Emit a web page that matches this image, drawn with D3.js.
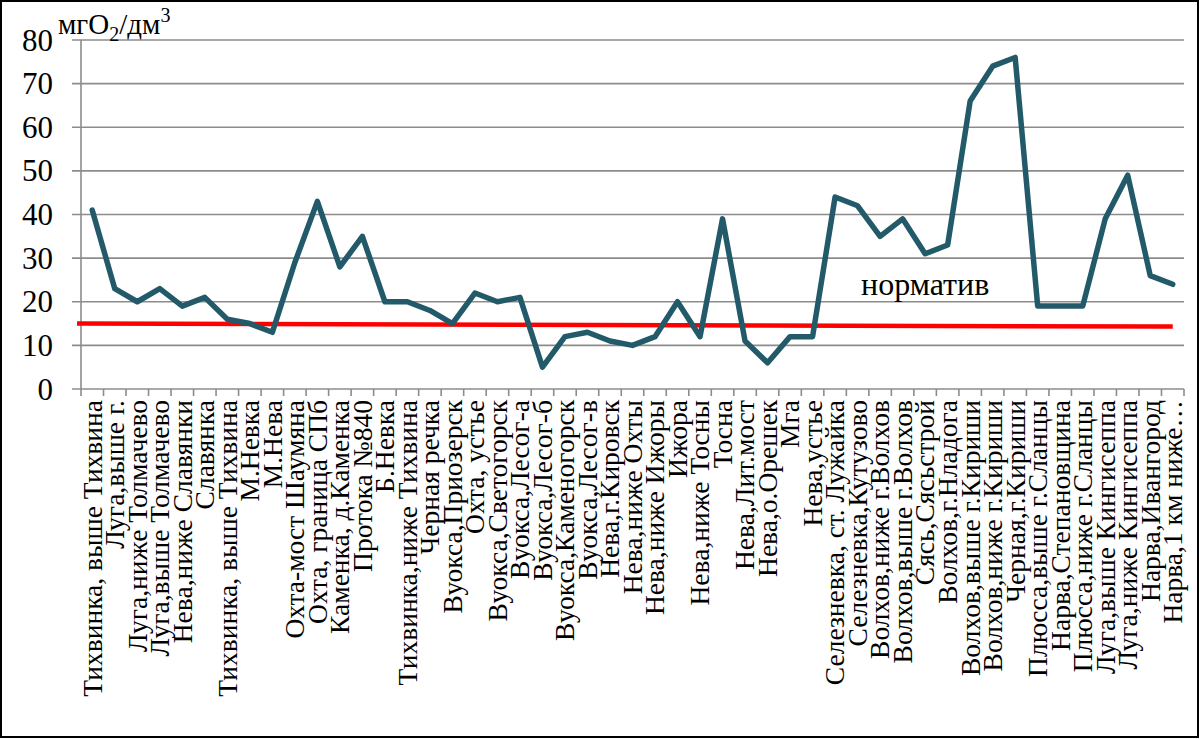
<!DOCTYPE html>
<html>
<head>
<meta charset="utf-8">
<script src="https://cdn.jsdelivr.net/npm/d3@7"></script>
<style>
body { margin: 0; padding: 0; background: #fff; }
</style>
</head>
<body>
<script>
// station names along the x axis
var categories = [
  "Тихвинка, выше Тихвина", "Луга,выше г.", "Луга,ниже Толмачево", "Луга,выше Толмачево",
  "Нева,ниже Славянки", "Славянка", "Тихвинка, выше Тихвина", "М.Невка", "М.Нева",
  "Охта-мост Шаумяна", "Охта, граница СПб", "Каменка, д.Каменка", "Протока №840", "Б.Невка",
  "Тихвинка,ниже Тихвина", "Черная речка", "Вуокса,Приозерск", "Охта, устье",
  "Вуокса,Светогорск", "Вуокса,Лесог-а", "Вуокса,Лесог-б", "Вуокса,Каменогорск",
  "Вуокса,Лесог-в", "Нева,г.Кировск", "Нева,ниже Охты", "Нева,ниже Ижоры", "Ижора",
  "Нева,ниже Тосны", "Тосна", "Нева,Лит.мост", "Нева,о.Орешек", "Мга", "Нева,устье",
  "Селезневка, ст. Лужайка", "Селезневка,Кутузово", "Волхов,ниже г.Волхов",
  "Волхов,выше г.Волхов", "Сясь,Сясьстрой", "Волхов,г.Нладога", "Волхов,выше г.Кириши",
  "Волхов,ниже г.Кириши", "Черная,г.Кириши", "Плюсса,выше г.Сланцы", "Нарва,Степановщина",
  "Плюсса,ниже г.Сланцы", "Луга,выше Кингисеппа", "Луга,ниже Кингисеппа", "Нарва,Ивангород",
  "Нарва,1 км ниже…"
];

// ХПК values
var values = [
  41, 23, 20, 23, 19, 21, 16, 15, 13, 29, 43, 28, 35, 20, 20, 18, 15, 22, 20, 21,
  5, 12, 13, 11, 10, 12, 20, 12, 39, 11, 6, 12, 12, 44, 42, 35, 39, 31, 33, 66,
  74, 76, 19, 19, 19, 39, 49, 26, 24
];

var yTicks    = [0, 10, 20, 30, 40, 50, 60, 70, 80];
var normValue = [15, 14.3];          // red normative line, start and end (drawn slightly tilted)
var normLabel = "норматив";

var W = 1200, H = 739;
var FONT = "'Liberation Serif', 'DejaVu Serif', serif";

var svg = d3.select("body").append("svg")
  .attr("width", W)
  .attr("height", H)
  .attr("font-family", FONT);

// frame round the whole picture
svg.append("rect")
  .attr("x", 1).attr("y", 1)
  .attr("width", W - 3).attr("height", H - 3)
  .attr("fill", "none")
  .attr("stroke", "#000")
  .attr("stroke-width", 2);

var x = d3.scaleBand()
  .domain(d3.range(categories.length))
  .range([81, 1184])
  .padding(0);

var y = d3.scaleLinear()
  .domain([0, 80])
  .range([389, 40]);

var cx = function (i) { return x(i) + x.bandwidth() / 2; };

// horizontal gridlines + left ticks
svg.append("g").selectAll("line")
  .data(yTicks)
  .join("line")
  .attr("x1", 72).attr("x2", x.range()[1])
  .attr("y1", function (d) { return y(d); })
  .attr("y2", function (d) { return y(d); })
  .attr("stroke", "#8c8c8c")
  .attr("stroke-width", 1.6);

// y axis line
svg.append("line")
  .attr("x1", 81).attr("x2", 81)
  .attr("y1", y(80)).attr("y2", y(0))
  .attr("stroke", "#8c8c8c")
  .attr("stroke-width", 1.6);

// x tick marks at category borders
svg.append("g").selectAll("line")
  .data(d3.range(categories.length + 1))
  .join("line")
  .attr("x1", function (i) { return x.range()[0] + i * x.bandwidth(); })
  .attr("x2", function (i) { return x.range()[0] + i * x.bandwidth(); })
  .attr("y1", y(0)).attr("y2", y(0) + 7)
  .attr("stroke", "#8c8c8c")
  .attr("stroke-width", 1.6);

// y tick labels
svg.append("g").selectAll("text")
  .data(yTicks)
  .join("text")
  .attr("font-family", FONT)
  .attr("x", 53)
  .attr("y", function (d) { return y(d); })
  .attr("dy", "0.34em")
  .attr("text-anchor", "end")
  .attr("font-size", 31)
  .text(function (d) { return d; });

// unit label  мгО2/дм3
var unit = svg.append("text")
  .attr("font-family", FONT)
  .attr("x", 58).attr("y", 34)
  .attr("font-size", 29);
unit.append("tspan").text("мгО");
unit.append("tspan").attr("dy", 7).attr("font-size", 20).text("2");
unit.append("tspan").attr("dy", -7).text("/дм");
unit.append("tspan").attr("dy", -12).attr("font-size", 20).text("3");

// category labels, rotated
svg.append("g").selectAll("text")
  .data(categories)
  .join("text")
  .attr("font-family", FONT)
  .attr("transform", function (d, i) { return "translate(" + cx(i) + ",400) rotate(-90)"; })
  .attr("dy", "0.34em")
  .attr("text-anchor", "end")
  .attr("font-size", 27.5)
  .text(function (d) { return d; });

// normative line
svg.append("line")
  .attr("x1", x.range()[0] - 4)
  .attr("x2", cx(categories.length - 1))
  .attr("y1", y(normValue[0]))
  .attr("y2", y(normValue[1]))
  .attr("stroke", "#ff0000")
  .attr("stroke-width", 4.5);

svg.append("text")
  .attr("font-family", FONT)
  .attr("x", 861).attr("y", 295)
  .attr("font-size", 32)
  .text(normLabel);

// data line
var line = d3.line()
  .x(function (d, i) { return cx(i); })
  .y(function (d) { return y(d); });

svg.append("path")
  .datum(values)
  .attr("d", line)
  .attr("fill", "none")
  .attr("stroke", "#235a69")
  .attr("stroke-width", 5.5)
  .attr("stroke-linejoin", "round")
  .attr("stroke-linecap", "round");
</script>
</body>
</html>
